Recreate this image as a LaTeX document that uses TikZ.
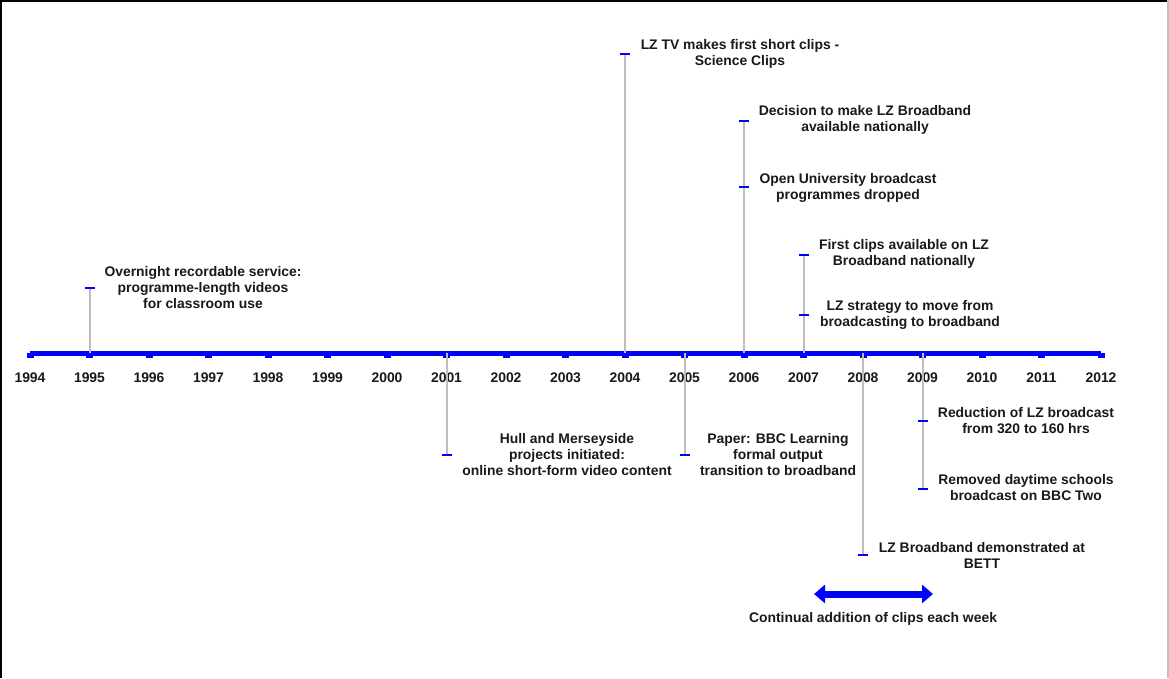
\documentclass[tikz,border=0pt]{standalone}
\usepackage{fontspec}
\setmainfont{Liberation Sans}
\usetikzlibrary{arrows.meta}
\definecolor{axisblue}{RGB}{0,0,255}
\definecolor{stemgray}{RGB}{190,190,190}
\begin{document}
\begin{tikzpicture}[x=1pt,y=-1pt,
  lbl/.style={font=\fontsize{13.9}{16}\selectfont\bfseries, align=center, inner sep=0pt, text=black!90},
  yr/.style={font=\fontsize{13.9}{15}\selectfont\bfseries, inner sep=0pt, text=black!90},
  stem/.style={draw=stemgray, line width=2pt},
  bluetick/.style={draw=axisblue, line width=2.6pt},
  axisline/.style={draw=axisblue, line width=5pt},
  yeartick/.style={fill=axisblue, draw=none},
  span/.style={draw=axisblue, line width=7pt, {Triangle[width=18pt,length=11pt]}-{Triangle[width=18pt,length=11pt]}}
]
\useasboundingbox (0,0) rectangle (1169,678);
\fill[white] (0,0) rectangle (1169,678);
% frame
\draw[black, line width=2.5pt] (0,1.2) -- (1169,1.2);
\draw[black, line width=2.5pt] (1.2,0) -- (1.2,678);
\draw[black!25, line width=1.5pt] (1168,0) -- (1168,678);

% axis
\coordinate (axL) at (30,353);
\coordinate (axR) at (1101,353);
\draw[axisline] (axL) -- (axR);
\foreach \yy [count=\i from 0] in {1994,...,2012}{
  \pgfmathsetmacro{\xx}{30+59.5*\i}
  \fill[yeartick] (\xx-3.5,353) rectangle (\xx+3.5,358);
  \node[yr] (y\yy) at (\xx,378) {\yy};
}

% stems (axis points and tick points)
\coordinate (a1995) at (90,353);   \coordinate (t1995) at (90,288);
\coordinate (a2001) at (447,353);  \coordinate (t2001) at (447,455);
\coordinate (a2004) at (625,353);  \coordinate (t2004) at (625,54);
\coordinate (a2005) at (685,353);  \coordinate (t2005) at (685,455);
\coordinate (a2006) at (744,353);  \coordinate (t2006a) at (744,121); \coordinate (t2006b) at (744,187);
\coordinate (a2007) at (804,353);  \coordinate (t2007a) at (804,255); \coordinate (t2007b) at (804,315);
\coordinate (a2008) at (863,353);  \coordinate (t2008) at (863,555);
\coordinate (a2009) at (923,353);  \coordinate (t2009a) at (923,421); \coordinate (t2009b) at (923,489);

\draw[stem] (a1995) -- (t1995);
\draw[stem] (a2001) -- (t2001);
\draw[stem] (a2004) -- (t2004);
\draw[stem] (a2005) -- (t2005);
\draw[stem] (a2006) -- (t2006a);
\draw[stem] (a2007) -- (t2007a);
\draw[stem] (a2008) -- (t2008);
\draw[stem] (a2009) -- (t2009b);

\foreach \c in {t1995,t2001,t2004,t2005,t2006a,t2006b,t2007a,t2007b,t2008,t2009a,t2009b}{
  \draw[bluetick] ([xshift=-5pt]\c) -- ([xshift=5pt]\c);
}

% labels
\node[lbl] (e1995) at (203,288) {Overnight recordable service:\\programme-length videos\\for classroom use};
\node[lbl] (e2001) at (567,455) {Hull and Merseyside\\projects initiated:\\online short-form video content};
\node[lbl] (e2004) at (740,54) {LZ TV makes first short clips -\\Science Clips};
\node[lbl] (e2005) at (778,455) {Paper: BBC Learning\\formal output\\transition to broadband};
\node[lbl] (e2006a) at (865,120) {Decision to make LZ Broadband\\available nationally};
\node[lbl] (e2006b) at (848,188) {Open University broadcast\\programmes dropped};
\node[lbl] (e2007a) at (904,254) {First clips available on LZ\\Broadband nationally};
\node[lbl] (e2007b) at (910,315) {LZ strategy to move from\\broadcasting to broadband};
\node[lbl] (e2008) at (982,555) {LZ Broadband demonstrated at\\BETT};
\node[lbl] (e2009a) at (1026,421) {Reduction of LZ broadcast\\from 320 to 160 hrs};
\node[lbl] (e2009b) at (1026,488) {Removed daytime schools\\broadcast on BBC Two};

% continual arrow
\coordinate (sL) at (814,594);
\coordinate (sR) at (933,594);
\draw[span] (sL) -- (sR);
\node[lbl] (cont) at (873,619) {Continual addition of clips each week};
\end{tikzpicture}
\end{document}
